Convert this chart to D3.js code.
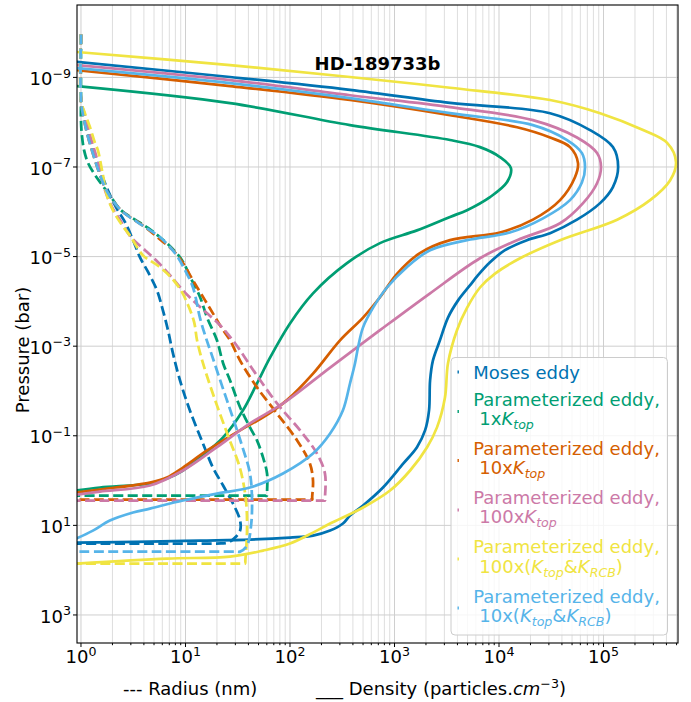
<!DOCTYPE html>
<html>
<head>
<meta charset="utf-8">
<script src="https://cdn.jsdelivr.net/npm/d3@7"></script>
<style>
  body { margin: 0; background: #fff; }
  text { font-family: "DejaVu Sans", sans-serif; }
</style>
</head>
<body>
<svg id="chart" width="691" height="702"></svg>
<script>
// ---------- data: [value, pressure (bar)] ----------
const seriesColors = ["#0072b2", "#009e73", "#d55e00", "#cc79a7", "#f0e442", "#56b4e9"];

// number density (particles cm^-3) vs pressure
const mosesDensity = [[0.9,4.5e-10],[26.7,9.8e-10],[375,1.9e-9],[3.4e3,3.7e-9],[3.08e4,6.3e-9],[7.43e4,1.5e-8],[1.23e5,3.6e-8],[1.38e5,1.0e-7],[1.23e5,2.8e-7],[9.27e4,6.4e-7],[5.57e4,1.5e-6],[3.08e4,3.0e-6],[1.85e4,4.3e-6],[1.14e4,7.2e-6],[8.2e3,1.34e-5],[6.3e3,2.6e-5],[5.27e3,4.4e-5],[4.06e3,9.5e-5],[3.25e3,2.3e-4],[2.72e3,7.4e-4],[2.33e3,2.1e-3],[2.19e3,5.8e-3],[2.14e3,2.7e-2],[1.96e3,7.6e-2],[1.64e3,0.18],[1.21e3,0.42],[776,1.43],[500,3.61],[375,6.04],[321,9.12],[242,13.1],[166,16.9],[100,18.7],[41.4,20.8],[13.8,21.9],[4.57,23.0],[0.9,24.3]];
const k1Density = [[0.9,1.56e-9],[26.7,3.75e-9],[375,1.16e-8],[3.4e3,2.5e-8],[6.58e3,3.6e-8],[1.02e4,6.0e-8],[1.3e4,1.06e-7],[1.19e4,2.2e-7],[8.2e3,4.7e-7],[4.94e3,9.2e-7],[3.4e3,1.3e-6],[1.64e3,2.6e-6],[726,5.0e-6],[351,1.4e-5],[166,6.6e-5],[100,3.1e-4],[64.4,1.8e-3],[48.3,6.8e-3],[35.5,2.7e-2],[22.9,0.109],[13.8,0.305],[9.46,0.596],[6.65,0.9],[4.57,1.16],[1.52,1.43],[0.9,1.67]];
const k10Density = [[0.9,6.9e-10],[26.7,1.56e-9],[375,3.2e-9],[3.4e3,7.0e-9],[1.49e4,1.3e-8],[3.08e4,2.2e-8],[4.78e4,3.6e-8],[5.7e4,8.2e-8],[5.33e4,1.7e-7],[3.84e4,5.5e-7],[2.11e4,1.5e-6],[1.02e4,2.9e-6],[3.4e3,4.3e-6],[1.75e3,8.4e-6],[1.06e3,2.4e-5],[726,8.1e-5],[500,2.3e-4],[301,7.4e-4],[166,4.1e-3],[93.5,1.6e-2],[55.2,3.9e-2],[35.5,6.9e-2],[16.1,0.213],[9.46,0.511],[6.65,0.855],[4.57,1.11],[1.52,1.58],[0.9,1.85]];
const k100Density = [[0.9,5.3e-10],[26.7,1.15e-9],[375,2.5e-9],[3.4e3,4.6e-9],[2.11e4,9.0e-9],[5.57e4,2.2e-8],[8.67e4,4.9e-8],[9.46e4,1.0e-7],[8.67e4,2.3e-7],[6.37e4,6.4e-7],[3.84e4,1.8e-6],[1.49e4,4.3e-6],[6.58e3,1.09e-5],[2.19e3,6.6e-5],[726,4.4e-4],[242,3.0e-3],[85.7,1.9e-2],[41.4,5.3e-2],[20.0,0.18],[9.46,0.596],[4.57,1.29],[1.52,1.76],[0.9,2.06]];
const kBoth100Density = [[0.9,2.7e-10],[26.7,5.3e-10],[375,9.8e-10],[3.4e3,1.7e-9],[3.08e4,3.2e-9],[9.27e4,6.3e-9],[2.39e5,1.5e-8],[4.06e5,2.9e-8],[4.94e5,7.8e-8],[4.33e5,2.0e-7],[2.79e5,5.5e-7],[1.35e5,1.5e-6],[3.84e4,4.3e-6],[1.59e4,1.09e-5],[9.16e3,2.4e-5],[6.58e3,4.9e-5],[4.94e3,1.4e-4],[3.96e3,4.4e-4],[3.25e3,2.4e-3],[3.04e3,1.4e-2],[2.55e3,6.5e-2],[2.05e3,0.18],[1.41e3,0.596],[906,1.67],[500,4.0],[242,9.12],[166,14.5],[100,25.5],[55.2,36.6],[26.7,49.8],[6.65,55.2],[0.9,71.4]];
const kBoth10Density = [[0.9,6.2e-10],[26.7,1.34e-9],[375,2.9e-9],[3.4e3,6.3e-9],[2.11e4,1.16e-8],[4.48e4,2.5e-8],[6.22e4,4.9e-8],[6.65e4,1.0e-7],[6.22e4,2.2e-7],[4.78e4,5.5e-7],[2.64e4,1.4e-6],[1.27e4,2.9e-6],[4.94e3,4.3e-6],[2.19e3,7.2e-6],[1.32e3,1.7e-5],[847,4.9e-5],[622,1.4e-4],[500,3.8e-4],[448,1.06e-3],[419,2.4e-3],[375,6.8e-3],[321,2.7e-2],[242,8.9e-2],[166,0.249],[85.7,0.695],[41.4,1.43],[20.0,1.95],[9.46,2.79],[4.57,4.22],[3.15,5.18],[1.89,7.82],[1.3,13.1],[0.9,19.7]];

// particle radius (nm) vs pressure
const mosesRadius = [[1,1.1e-10],[1,3.2e-9],[1.07,7.0e-9],[1.17,1.76e-8],[1.33,4.9e-8],[1.52,1.18e-7],[1.81,3.3e-7],[2.16,7.9e-7],[2.64,1.7e-6],[3.15,4.3e-6],[3.67,1.04e-5],[4.38,2.2e-5],[5.34,5.7e-5],[6.09,1.6e-4],[6.8,4.4e-4],[7.59,1.45e-3],[8.86,5.8e-3],[11.0,2.7e-2],[14.7,0.149],[18.3,0.511],[22.9,1.29],[28.5,3.26],[33.3,7.82],[33.3,13.1],[29.1,19.7],[25.5,24.3],[22.0,25.3],[10,25.5],[0.9,25.5]];
const k1Radius = [[1,1.1e-10],[1,3.2e-9],[1,9.0e-9],[1.02,1.95e-8],[1.07,4.2e-8],[1.17,8.2e-8],[1.36,1.5e-7],[1.55,2.3e-7],[1.94,4.7e-7],[2.41,9.2e-7],[3.29,1.5e-6],[4.38,2.3e-6],[5.7,3.7e-6],[7.43,6.5e-6],[9.26,1.2e-5],[11.3,3.1e-5],[13.8,8.1e-5],[16.1,2.3e-4],[20.0,7.4e-4],[22.9,2.4e-3],[26.7,5.8e-3],[33.3,2.3e-2],[41.4,6.5e-2],[48.3,0.127],[55.2,0.305],[60.3,0.695],[60.3,1.9],[60.3,2.16],[55.0,2.16],[10,2.16],[0.9,2.16]];
const k10Radius = [[1,1.1e-10],[1,3.2e-9],[1.07,9.0e-9],[1.19,2.5e-8],[1.36,7.0e-8],[1.52,1.5e-7],[1.81,3.8e-7],[2.41,9.2e-7],[4.1,2.2e-6],[5.83,4.3e-6],[7.59,7.2e-6],[9.46,1.4e-5],[11.8,3.4e-5],[15.4,9.5e-5],[18.3,1.85e-4],[22.3,4.0e-4],[26.7,7.4e-4],[33.3,2.1e-3],[48.3,8.3e-3],[75.2,3.2e-2],[117,0.127],[155,0.416],[166,1.0],[163,2.35],[163,2.65],[150,2.65],[10,2.65],[0.9,2.65]];
const k100Radius = [[1,1.1e-10],[1,3.2e-9],[1.09,7.0e-9],[1.22,1.95e-8],[1.39,5.4e-8],[1.52,1.18e-7],[1.7,3.3e-7],[1.98,7.9e-7],[2.36,1.5e-6],[3.01,3.7e-6],[4.1,7.2e-6],[5.46,1.34e-5],[7.11,2.6e-5],[9.46,5.7e-5],[12.3,1.05e-4],[16.1,1.85e-4],[21.4,3.4e-4],[29.8,8.6e-4],[46.2,3.9e-3],[75.2,1.9e-2],[125,7.6e-2],[181,0.249],[216,0.695],[216,2.5],[216,2.79],[198,2.79],[10,2.79],[0.9,2.79]];
const kBoth100Radius = [[1,1.1e-10],[1,3.2e-9],[1.09,6.3e-9],[1.22,1.3e-8],[1.36,2.9e-8],[1.45,4.2e-8],[1.62,1.5e-7],[1.77,4.3e-7],[2.02,9.2e-7],[2.36,1.7e-6],[3.01,3.7e-6],[3.92,9.4e-6],[5.46,1.6e-5],[7.26,2.9e-5],[9.06,5.7e-5],[10.6,1.22e-4],[12.1,2.9e-4],[12.9,7.4e-4],[14.7,2.4e-3],[19.2,1.6e-2],[25.5,9.9e-2],[33.3,0.538],[37.9,2.79],[38.8,13.1],[37.4,60],[37.1,71.4],[34.0,71.4],[5,71.4],[0.9,71.4]];
const kBoth10Radius = [[1,1.1e-10],[1,3.2e-9],[1.07,9.0e-9],[1.19,2.5e-8],[1.36,7.0e-8],[1.52,1.5e-7],[1.81,3.8e-7],[2.41,9.2e-7],[4.1,2.2e-6],[5.7,3.7e-6],[7.94,8.4e-6],[9.89,2.0e-5],[11.8,4.9e-5],[13.8,2.4e-4],[15.4,5.7e-4],[17.9,1.6e-3],[22.3,7.5e-3],[27.9,3.5e-2],[34.7,0.165],[41.4,0.695],[43.3,2.79],[42.4,10.1],[38.8,28.3],[33.3,38.5],[30.0,38.5],[5,38.5],[0.9,38.5]];

const densitySeries = [mosesDensity, k1Density, k10Density, k100Density, kBoth100Density, kBoth10Density];
const radiusSeries  = [mosesRadius, k1Radius, k10Radius, k100Radius, kBoth100Radius, kBoth10Radius];

// legend labels: each entry is a list of lines, each line a list of text runs
const legendLabels = [
  [[{t:"Moses eddy"}]],
  [[{t:"Parameterized eddy,"}], [{t:"1x"},{t:"K",it:1},{t:"top",it:1,sub:1}]],
  [[{t:"Parameterized eddy,"}], [{t:"10x"},{t:"K",it:1},{t:"top",it:1,sub:1}]],
  [[{t:"Parameterized eddy,"}], [{t:"100x"},{t:"K",it:1},{t:"top",it:1,sub:1}]],
  [[{t:"Parameterized eddy,"}], [{t:"100x("},{t:"K",it:1},{t:"top",it:1,sub:1},{t:"&"},{t:"K",it:1},{t:"RCB",it:1,sub:1},{t:")"}]],
  [[{t:"Parameterized eddy,"}], [{t:"10x("},{t:"K",it:1},{t:"top",it:1,sub:1},{t:"&"},{t:"K",it:1},{t:"RCB",it:1,sub:1},{t:")"}]]
];

const xTickExps = [0, 1, 2, 3, 4, 5];
const yTickExps = [-9, -7, -5, -3, -1, 1, 3];
const chartTitle = "HD-189733b";

// ---------- layout ----------
const svg = d3.select("#chart");
const L = 77, R = 678, T = 5, B = 643;
const FS = 18;

const x = d3.scaleLog().domain([0.916, 5.16e5]).range([L, R]);
const y = d3.scaleLog().domain([2.42e-11, 4227]).range([T, B]);

svg.append("rect").attr("width", 691).attr("height", 702).attr("fill", "#fff");

svg.append("defs").append("clipPath").attr("id", "plotclip")
  .append("rect").attr("x", L).attr("y", T).attr("width", R - L).attr("height", B - T);

// ---------- grid ----------
const xMinor = [];
for (let d = -1; d <= 5; d++) for (let m = 2; m <= 9; m++) {
  const v = m * Math.pow(10, d);
  if (v > x.domain()[0] && v < x.domain()[1]) xMinor.push(v);
}
const xMajor = xTickExps.map(e => Math.pow(10, e));
const yMajor = yTickExps.map(e => Math.pow(10, e));

const grid = svg.append("g");
grid.selectAll(".gxm").data(xMinor).join("line")
  .attr("x1", d => x(d)).attr("x2", d => x(d)).attr("y1", T).attr("y2", B)
  .attr("stroke", "#dedede").attr("stroke-width", 1);
grid.selectAll(".gxM").data(xMajor).join("line")
  .attr("x1", d => x(d)).attr("x2", d => x(d)).attr("y1", T).attr("y2", B)
  .attr("stroke", "#cfcfcf").attr("stroke-width", 1);
grid.selectAll(".gyM").data(yMajor).join("line")
  .attr("y1", d => y(d)).attr("y2", d => y(d)).attr("x1", L).attr("x2", R)
  .attr("stroke", "#cfcfcf").attr("stroke-width", 1);

// ---------- curves ----------
const line = d3.line()
  .x(d => x(d[0])).y(d => y(d[1]))
  .curve(d3.curveCatmullRom.alpha(0.5));

const plot = svg.append("g").attr("clip-path", "url(#plotclip)");
seriesColors.forEach((c, i) => {
  plot.append("path").datum(radiusSeries[i]).attr("d", line)
    .attr("fill", "none").attr("stroke", c).attr("stroke-width", 2.75)
    .attr("stroke-dasharray", "10,4.4");
  plot.append("path").datum(densitySeries[i]).attr("d", line)
    .attr("fill", "none").attr("stroke", c).attr("stroke-width", 2.7)
    .attr("stroke-linejoin", "round");
});

// ---------- axes frame and ticks ----------
svg.append("rect").attr("x", L).attr("y", T).attr("width", R - L).attr("height", B - T)
  .attr("fill", "none").attr("stroke", "#000").attr("stroke-width", 1.1);

const ticks = svg.append("g").attr("stroke", "#000").attr("stroke-width", 1);
ticks.selectAll(".txm").data(xMinor).join("line")
  .attr("x1", d => x(d)).attr("x2", d => x(d)).attr("y1", B).attr("y2", B + 2.2);
ticks.selectAll(".txM").data(xMajor).join("line")
  .attr("x1", d => x(d)).attr("x2", d => x(d)).attr("y1", B).attr("y2", B + 4);
ticks.selectAll(".tyM").data(yMajor).join("line")
  .attr("y1", d => y(d)).attr("y2", d => y(d)).attr("x1", L - 4).attr("x2", L);

function expLabel(sel, e) {
  sel.append("tspan").text("10");
  sel.append("tspan").attr("dy", -7.5).attr("font-size", FS * 0.7)
    .text(e < 0 ? "\u2212" + (-e) : String(e));
}

xTickExps.forEach(e => {
  const t = svg.append("text").attr("x", x(Math.pow(10, e))).attr("y", 663)
    .attr("text-anchor", "middle").attr("font-size", FS).attr("fill", "#000");
  expLabel(t, e);
});
yTickExps.forEach(e => {
  const t = svg.append("text").attr("x", 71).attr("y", y(Math.pow(10, e)) + 7.7)
    .attr("text-anchor", "end").attr("font-size", FS).attr("fill", "#000");
  expLabel(t, e);
});

// ---------- titles ----------
svg.append("text").attr("x", (L + R) / 2).attr("y", 70).attr("text-anchor", "middle")
  .attr("font-size", FS).attr("font-weight", "bold").text(chartTitle);

svg.append("text").attr("transform", "translate(29,350) rotate(-90)")
  .attr("text-anchor", "middle").attr("font-size", FS).text("Pressure (bar)");

svg.append("text").attr("x", 123).attr("y", 695).attr("font-size", FS).text("--- Radius (nm)");
const dl = svg.append("text").attr("x", 316).attr("y", 695).attr("font-size", FS);
dl.append("tspan").text("___ Density (particles.");
dl.append("tspan").attr("font-style", "italic").text("cm");
dl.append("tspan").attr("dy", -7.5).attr("font-size", FS * 0.7).text("\u22123");
dl.append("tspan").attr("dy", 7.5).text(")");

// ---------- legend ----------
const lg = svg.append("g");
lg.append("rect").attr("x", 451).attr("y", 357.5).attr("width", 216.5).attr("height", 277.5)
  .attr("rx", 4).attr("fill", "#fff").attr("fill-opacity", 0.8)
  .attr("stroke", "#cccccc").attr("stroke-width", 1);

const firstBase = [379, 406, 455, 504, 553.3, 602.7];
const handleY = [372, 411.5, 460.5, 510, 559, 608];

function richLine(g, x0, yb, runs, color) {
  const t = g.append("text").attr("x", x0).attr("y", yb).attr("font-size", FS).attr("fill", color);
  let shift = 0;
  runs.forEach(r => {
    const s = t.append("tspan").text(r.t);
    const target = r.sub ? 4 : 0;
    if (target !== shift) s.attr("dy", target - shift);
    shift = target;
    if (r.sub) s.attr("font-size", FS * 0.7);
    if (r.it) s.attr("font-style", "italic");
  });
}

legendLabels.forEach((lines, i) => {
  const c = seriesColors[i];
  lg.append("rect").attr("x", 457.5).attr("y", handleY[i] - 1.5).attr("width", 1.4).attr("height", 3)
    .attr("fill", c);
  lines.forEach((runs, j) => {
    richLine(lg, j === 0 ? 473.3 : 479.3, firstBase[i] + j * 19.2, runs, c);
  });
});
</script>
</body>
</html>
